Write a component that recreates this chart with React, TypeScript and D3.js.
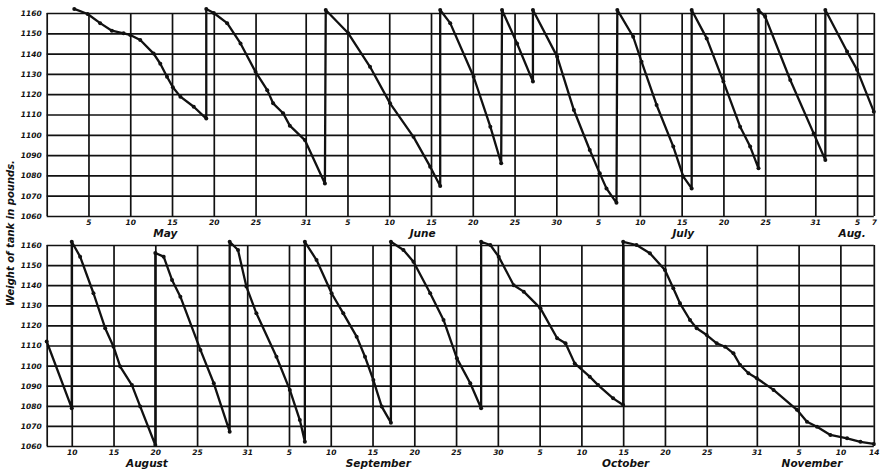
import React, { useEffect, useRef } from 'react';
import * as d3 from 'd3';

const YEAR = 1909;
const DAY_MS = 864e5;

// [month, day of month (fractional), weight in pounds]
const topReadings: [number, number, number][] = [
  [5, 3.3, 1162], [5, 4.9, 1159.5], [5, 6.4, 1155], [5, 7.8, 1151.3], [5, 9.2, 1150],
  [5, 10, 1149.2], [5, 11.2, 1146.7], [5, 12.8, 1140], [5, 13.6, 1135], [5, 14.4, 1128.6],
  [5, 15.1, 1123.4], [5, 16, 1118.8], [5, 17.6, 1113.8], [5, 19.1, 1108],
  [5, 19.1, 1162], [5, 20, 1160], [5, 21.6, 1155], [5, 23.2, 1145], [5, 25, 1131],
  [5, 26.4, 1122], [5, 27.1, 1115.5], [5, 28.3, 1110.6], [5, 29.1, 1104.5], [5, 30.9, 1097.4],
  [6, 2.3, 1076],
  [6, 2.4, 1161.5], [6, 5.1, 1150], [6, 7.7, 1133.5], [6, 10.1, 1115.5], [6, 12.9, 1099],
  [6, 14.9, 1084.3], [6, 16.1, 1074.8],
  [6, 16.1, 1161.5], [6, 17.3, 1155], [6, 20.1, 1128.6], [6, 22.1, 1104], [6, 23.4, 1086],
  [6, 23.5, 1161.5], [6, 25.3, 1145], [6, 27.2, 1126.2],
  [6, 27.2, 1161.5], [6, 30.1, 1138.5], [7, 2.1, 1112.2], [7, 4, 1092.5], [7, 5.2, 1081],
  [7, 6, 1073.6], [7, 7.2, 1066.5],
  [7, 7.3, 1161.5], [7, 9.2, 1148.3], [7, 10.2, 1136], [7, 12, 1114.7], [7, 14, 1094.2],
  [7, 15.2, 1079.4], [7, 16.2, 1073.6],
  [7, 16.2, 1161.5], [7, 18, 1147.5], [7, 20, 1126.2], [7, 22, 1104], [7, 23.2, 1094.2],
  [7, 24.2, 1083.5],
  [7, 24.2, 1161.5], [7, 25, 1158.2], [7, 28, 1127], [7, 30.8, 1100.7], [8, 1.2, 1087.6],
  [8, 1.2, 1161.5], [8, 3.8, 1141], [8, 5, 1132], [8, 7, 1111.4],
];

const bottomReadings: [number, number, number][] = [
  [8, 7, 1112], [8, 10, 1078.8],
  [8, 10, 1161.6], [8, 11, 1154.2], [8, 12.6, 1136], [8, 14, 1118.6], [8, 15, 1109.4],
  [8, 15.8, 1099.5], [8, 17.2, 1090.3], [8, 18.2, 1079.6], [8, 20, 1060.5],
  [8, 20, 1156], [8, 21, 1154.2], [8, 22, 1142.6], [8, 23, 1134.3], [8, 25.4, 1107.8],
  [8, 27, 1091.2], [8, 28.9, 1067.1],
  [8, 28.9, 1161.6], [8, 29.9, 1157.5], [8, 30.9, 1139.3], [9, 1.1, 1126], [9, 3.5, 1104.4],
  [9, 5.1, 1087.9], [9, 6.3, 1072.9], [9, 6.9, 1062.1],
  [9, 6.9, 1161.6], [9, 8.3, 1152.5], [9, 10.1, 1136], [9, 11.5, 1126], [9, 13.1, 1114.4],
  [9, 14.1, 1104.4], [9, 15.1, 1092.8], [9, 16.1, 1079.6], [9, 17.2, 1071.6],
  [9, 17.2, 1161.6], [9, 18.7, 1157.5], [9, 19.9, 1151.7], [9, 21.9, 1136], [9, 23.5, 1122.7],
  [9, 25.1, 1103.6], [9, 26.7, 1091.2], [9, 28, 1078.8],
  [9, 28, 1161.6], [9, 29.1, 1160], [9, 30.1, 1154.2], [10, 1.9, 1140], [10, 3.1, 1136.8],
  [10, 5.1, 1128.5], [10, 7.1, 1113.6], [10, 8.1, 1111.1], [10, 9.2, 1101.1], [10, 11, 1094.5],
  [10, 12, 1090.3], [10, 13.8, 1083.7], [10, 15, 1080.4],
  [10, 15, 1161.6], [10, 16.6, 1160], [10, 18.2, 1155.9], [10, 20, 1147.6], [10, 21, 1138.5],
  [10, 21.8, 1131], [10, 23, 1122.7], [10, 23.8, 1118.6], [10, 25, 1115.2], [10, 26.2, 1111.1],
  [10, 27.2, 1109.4], [10, 28.2, 1106.1], [10, 29, 1100.3], [10, 30, 1096.2], [10, 31, 1093.7],
  [11, 2, 1087.9], [11, 4.8, 1078], [11, 6, 1072.1], [11, 7.2, 1069.6], [11, 8.8, 1065.5],
  [11, 10.8, 1063.8], [11, 12.4, 1062.1], [11, 14, 1061],
];

// [month, day]
const topDomain: [number, number][] = [[4, 30], [8, 7]];
const bottomDomain: [number, number][] = [[8, 7], [11, 14]];

const topTicks: [number, number][] = [
  [4, 30], [5, 5], [5, 10], [5, 15], [5, 20], [5, 25], [5, 31],
  [6, 5], [6, 10], [6, 15], [6, 20], [6, 25], [6, 30],
  [7, 5], [7, 10], [7, 15], [7, 20], [7, 25], [7, 31], [8, 5], [8, 7],
];
const bottomTicks: [number, number][] = [
  [8, 7], [8, 10], [8, 15], [8, 20], [8, 25], [8, 31],
  [9, 5], [9, 10], [9, 15], [9, 20], [9, 25], [9, 30],
  [10, 5], [10, 10], [10, 15], [10, 20], [10, 25], [10, 31],
  [11, 5], [11, 10], [11, 14],
];

const weightTicks = [1060, 1070, 1080, 1090, 1100, 1110, 1120, 1130, 1140, 1150, 1160];

// [label, month, day] the label is centred on
const topMonths: [string, number, number][] = [
  ['May', 5, 14.2], ['June', 6, 14], ['July', 7, 15.2], ['Aug.', 8, 4.4],
];
const bottomMonths: [string, number, number][] = [
  ['August', 8, 19], ['September', 9, 15.7], ['October', 10, 15.3], ['November', 11, 6.6],
];

const toDate = (m: number, d: number) => new Date(Date.UTC(YEAR, m - 1, 1) + (d - 1) * DAY_MS);

const FONT = '"DejaVu Sans", Verdana, sans-serif';

export default function App() {
  const ref = useRef<SVGSVGElement>(null);

  useEffect(() => {
    const svg = d3.select(ref.current);
    svg.selectAll('*').remove();

    const left = 46.7;
    const right = 873.8;

    const panels = [
      { readings: topReadings, domain: topDomain, ticks: topTicks, months: topMonths, top: 13, bottom: 216 },
      { readings: bottomReadings, domain: bottomDomain, ticks: bottomTicks, months: bottomMonths, top: 245, bottom: 446 },
    ];

    panels.forEach((p) => {
      const x = d3.scaleUtc()
        .domain(p.domain.map(([m, d]) => toDate(m, d)))
        .range([left, right]);
      const y = d3.scaleLinear().domain([1060, 1160]).range([p.bottom, p.top]);
      const g = svg.append('g');
      const startTime = toDate(p.domain[0][0], p.domain[0][1]).getTime();

      // vertical grid + day labels
      const gx = g.append('g')
        .attr('transform', `translate(0,${p.bottom})`)
        .call(
          d3.axisBottom(x)
            .tickValues(p.ticks.map(([m, d]) => toDate(m, d)))
            .tickFormat((v: any) => (v.getTime() === startTime ? '' : String(v.getUTCDate())))
            .tickSize(-(p.bottom - p.top))
            .tickSizeOuter(0)
            .tickPadding(5)
        );
      gx.select('.domain').remove();

      // horizontal grid + weight labels
      const gy = g.append('g')
        .attr('transform', `translate(${left},0)`)
        .call(
          d3.axisLeft(y)
            .tickValues(weightTicks)
            .tickFormat((v: any) => String(v))
            .tickSize(-(right - left))
            .tickSizeOuter(0)
            .tickPadding(5)
        );
      gy.select('.domain').remove();

      g.selectAll('.tick line').attr('stroke', '#111').attr('stroke-width', 1.7);
      gx.selectAll('.tick text')
        .attr('dy', null)
        .attr('y', 8.5)
        .attr('fill', '#111')
        .style('font-family', FONT)
        .style('font-size', '7.5px')
        .style('font-weight', 'bold')
        .style('font-style', 'italic');
      gy.selectAll('.tick text')
        .attr('fill', '#111')
        .style('font-family', FONT)
        .style('font-size', '7.5px')
        .style('font-weight', 'bold')
        .style('font-style', 'italic');

      // month names
      g.selectAll('text.month')
        .data(p.months)
        .enter()
        .append('text')
        .attr('class', 'month')
        .attr('x', (d) => x(toDate(d[1], d[2])))
        .attr('y', p.bottom + 20.5)
        .attr('text-anchor', 'middle')
        .attr('fill', '#111')
        .style('font-family', FONT)
        .style('font-size', '10.5px')
        .style('font-weight', 'bold')
        .style('font-style', 'italic')
        .text((d) => d[0]);

      const pts = p.readings.map(([m, d, w]) => ({ t: toDate(m, d), w }));
      const line = d3.line<{ t: Date; w: number }>()
        .x((d) => x(d.t))
        .y((d) => y(d.w));

      g.append('path')
        .datum(pts)
        .attr('d', line)
        .attr('fill', 'none')
        .attr('stroke', '#111')
        .attr('stroke-width', 2.3)
        .attr('stroke-linejoin', 'round');

      g.selectAll('circle')
        .data(pts)
        .enter()
        .append('circle')
        .attr('cx', (d) => x(d.t))
        .attr('cy', (d) => y(d.w))
        .attr('r', 2)
        .attr('fill', '#111');
    });

    svg.append('text')
      .attr('transform', 'translate(14,233) rotate(-90)')
      .attr('text-anchor', 'middle')
      .attr('fill', '#111')
      .style('font-family', FONT)
      .style('font-size', '10px')
      .style('font-weight', 'bold')
      .style('font-style', 'italic')
      .text('Weight of tank in pounds.');
  }, []);

  return (
    <svg
      ref={ref}
      width={882}
      height={474}
      style={{ position: 'absolute', left: 0, top: 0, background: '#fff' }}
    />
  );
}
